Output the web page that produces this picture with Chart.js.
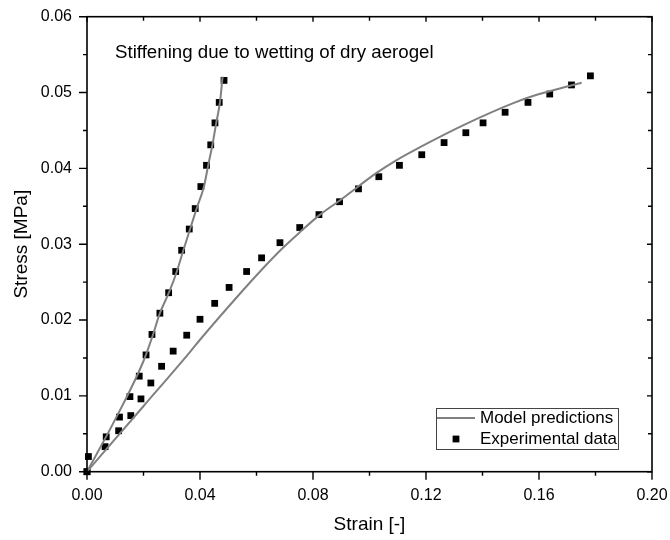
<!DOCTYPE html>
<html>
<head>
<meta charset="utf-8">
<script src="https://cdn.jsdelivr.net/npm/chart.js@4"></script>
<style>
  html, body { margin: 0; padding: 0; background: #fff; }
  #wrap { width: 670px; height: 540px; }
</style>
</head>
<body>
<div id="wrap"><canvas id="stressChart" width="670" height="540"></canvas></div>
<script>
// Wetted sample (steep curve)
const expStrainA = [0, 0.0005, 0.0068, 0.0115, 0.0152, 0.0185, 0.0209, 0.0230, 0.0258, 0.0289, 0.0314, 0.0335, 0.0362, 0.0383, 0.0403, 0.0423, 0.0438, 0.0453, 0.0468, 0.0485];
const expStressA = [0, 0.0020, 0.0046, 0.0072, 0.0099, 0.0126, 0.0154, 0.0181, 0.0209, 0.0236, 0.0264, 0.0292, 0.0320, 0.0347, 0.0376, 0.0404, 0.0431, 0.0460, 0.0487, 0.0516];
const modelStrainA = [0, 0.0093, 0.0199, 0.0233, 0.0258, 0.0291, 0.0318, 0.0341, 0.0365, 0.0388, 0.0414, 0.0429, 0.0444, 0.0457, 0.0471, 0.0480];
const modelStressA = [0, 0.0064, 0.0145, 0.0180, 0.0209, 0.0237, 0.0264, 0.0292, 0.0320, 0.0347, 0.0376, 0.0404, 0.0431, 0.0459, 0.0488, 0.0521];

// Dry aerogel (softer curve)
const expStrainB = [0, 0.0064, 0.0112, 0.0155, 0.0191, 0.0226, 0.0264, 0.0305, 0.0353, 0.0400, 0.0452, 0.0503, 0.0565, 0.0618, 0.0683, 0.0753, 0.0821, 0.0894, 0.0961, 0.1033, 0.1106, 0.1185, 0.1264, 0.1341, 0.1402, 0.1480, 0.1561, 0.1638, 0.1715, 0.1782];
const expStressB = [0, 0.0033, 0.0054, 0.0074, 0.0096, 0.0117, 0.0139, 0.0159, 0.0180, 0.0201, 0.0222, 0.0243, 0.0264, 0.0282, 0.0302, 0.0322, 0.0339, 0.0356, 0.0373, 0.0389, 0.0404, 0.0418, 0.0434, 0.0447, 0.0460, 0.0474, 0.0487, 0.0498, 0.0510, 0.0522];
const modelStrainB = [0, 0.0199, 0.0365, 0.0400, 0.0542, 0.0620, 0.0690, 0.0754, 0.0825, 0.0896, 0.1025, 0.1096, 0.1179, 0.1344, 0.1509, 0.1592, 0.1710, 0.1751];
const modelStressB = [0, 0.0086, 0.0158, 0.0174, 0.0235, 0.0267, 0.0294, 0.0316, 0.0339, 0.0358, 0.0394, 0.0411, 0.0428, 0.0459, 0.0486, 0.0497, 0.0509, 0.0513];

const xTicks = [0, 0.04, 0.08, 0.12, 0.16, 0.20];
const yTicks = [0, 0.01, 0.02, 0.03, 0.04, 0.05, 0.06];

const legendLabels = ['Model predictions', 'Experimental data'];
const noteText = 'Stiffening due to wetting of dry aerogel';

const FONT = '"Liberation Sans", Arial, sans-serif';
const toPoints = (xs, ys) => xs.map((x, i) => ({ x: x, y: ys[i] }));

// Frame, ticks, legend box and note
const framePlugin = {
    id: 'frame',
    afterDraw(chart) {
        const { ctx, chartArea: a, scales: { x, y } } = chart;
        ctx.save();
        ctx.strokeStyle = '#000';
        ctx.lineWidth = 1.6;
        ctx.strokeRect(a.left, a.top, a.right - a.left, a.bottom - a.top);

        ctx.lineWidth = 1.4;
        ctx.beginPath();
        for (let i = 0; i < xTicks.length; i++) {
            const px = x.getPixelForValue(xTicks[i]);
            ctx.moveTo(px, a.bottom); ctx.lineTo(px, a.bottom + 8);
            ctx.moveTo(px, a.top); ctx.lineTo(px, a.top + 5);
            if (i < xTicks.length - 1) {
                const mx = x.getPixelForValue((xTicks[i] + xTicks[i + 1]) / 2);
                ctx.moveTo(mx, a.bottom); ctx.lineTo(mx, a.bottom + 4);
                ctx.moveTo(mx, a.top); ctx.lineTo(mx, a.top + 4);
            }
        }
        for (let i = 0; i < yTicks.length; i++) {
            const py = y.getPixelForValue(yTicks[i]);
            ctx.moveTo(a.left, py); ctx.lineTo(a.left - 8, py);
            ctx.moveTo(a.right, py); ctx.lineTo(a.right - 5, py);
            if (i < yTicks.length - 1) {
                const my = y.getPixelForValue((yTicks[i] + yTicks[i + 1]) / 2);
                ctx.moveTo(a.left, my); ctx.lineTo(a.left - 4, my);
                ctx.moveTo(a.right, my); ctx.lineTo(a.right - 4, my);
            }
        }
        ctx.stroke();

        // note
        ctx.fillStyle = '#000';
        ctx.font = '18.7px ' + FONT;
        ctx.textAlign = 'left';
        ctx.textBaseline = 'middle';
        ctx.fillText(noteText, 115, 53);

        // legend
        ctx.lineWidth = 1;
        ctx.strokeStyle = '#444';
        ctx.strokeRect(436.5, 408.5, 182, 41);
        ctx.strokeStyle = '#808080';
        ctx.lineWidth = 2;
        ctx.beginPath();
        ctx.moveTo(437, 418); ctx.lineTo(475, 418);
        ctx.stroke();
        ctx.fillStyle = '#000';
        ctx.fillRect(452.6, 435.6, 6.8, 6.8);
        ctx.font = '17px ' + FONT;
        ctx.fillText(legendLabels[0], 480, 418);
        ctx.fillText(legendLabels[1], 480, 439.5);
        ctx.restore();
    }
};

const lineStyle = { showLine: true, borderColor: '#808080', borderWidth: 2, pointRadius: 0, cubicInterpolationMode: 'monotone', fill: false, clip: false };
const markStyle = { showLine: false, pointStyle: 'rect', pointRadius: 4.8, pointHoverRadius: 4.8, backgroundColor: '#000', borderWidth: 0, clip: false };

new Chart(document.getElementById('stressChart'), {
    type: 'scatter',
    data: {
        datasets: [
            { ...lineStyle, label: legendLabels[0], data: toPoints(modelStrainA, modelStressA) },
            { ...lineStyle, label: legendLabels[0], data: toPoints(modelStrainB, modelStressB) },
            { ...markStyle, label: legendLabels[1], data: toPoints(expStrainA, expStressA) },
            { ...markStyle, label: legendLabels[1], data: toPoints(expStrainB, expStressB) }
        ]
    },
    options: {
        responsive: false,
        animation: false,
        layout: { padding: { top: 16.7, right: 18, left: 0, bottom: 0 } },
        plugins: { legend: { display: false }, tooltip: { enabled: false } },
        scales: {
            x: {
                type: 'linear', min: 0, max: 0.2,
                afterBuildTicks: (s) => { s.ticks = xTicks.map(v => ({ value: v })); },
                afterFit: (s) => { s.height = 68.3; s.paddingLeft = 0; s.paddingRight = 0; },
                grid: { display: false, drawTicks: false },
                border: { display: false },
                ticks: { padding: 14, color: '#000', font: { family: FONT, size: 16 }, callback: (v) => v.toFixed(2), maxRotation: 0, autoSkip: false },
                title: { display: true, text: 'Strain [-]', color: '#000', font: { family: FONT, size: 19 }, padding: { top: 0, bottom: 3.6 } }
            },
            y: {
                type: 'linear', min: 0, max: 0.06,
                afterBuildTicks: (s) => { s.ticks = yTicks.map(v => ({ value: v })); },
                afterFit: (s) => { s.width = 87; s.paddingTop = 0; s.paddingBottom = 0; },
                grid: { display: false, drawTicks: false },
                border: { display: false },
                ticks: { padding: 15, color: '#000', font: { family: FONT, size: 16 }, callback: (v) => v.toFixed(2), autoSkip: false },
                title: { display: true, text: 'Stress [MPa]', color: '#000', font: { family: FONT, size: 19 }, padding: { top: 10.3, bottom: 0 } }
            }
        }
    },
    plugins: [framePlugin]
});
</script>
</body>
</html>
